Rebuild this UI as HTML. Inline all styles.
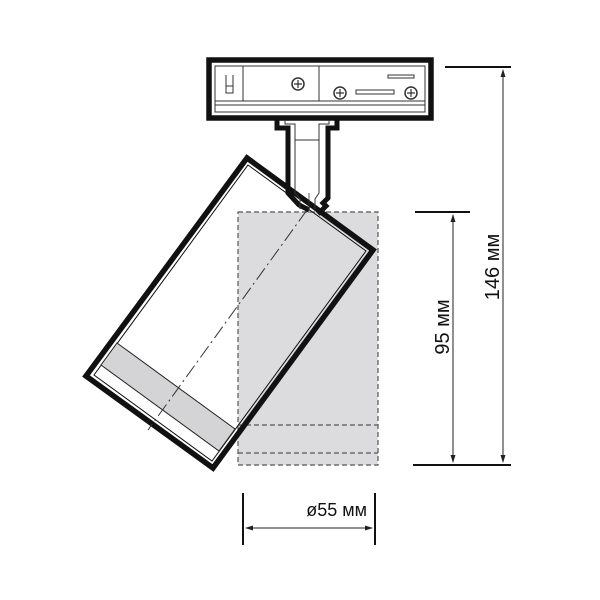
<!DOCTYPE html>
<html><head><meta charset="utf-8"><style>html,body{margin:0;padding:0;background:#fff}svg{display:block}</style></head>
<body>
<svg width="600" height="600" viewBox="0 0 600 600" xmlns="http://www.w3.org/2000/svg" font-family="Liberation Sans, sans-serif">
<defs>
<marker id="a" markerWidth="8" markerHeight="8" refX="7" refY="4" orient="auto-start-reverse" markerUnits="userSpaceOnUse"><path d="M0,1.5 L8,4 L0,6.5 z" fill="#222"/></marker>
</defs>
<rect x="238" y="212" width="140" height="253" fill="#dcdcde" stroke="#555" stroke-width="1.2" stroke-dasharray="5,3"/>
<line x1="238" y1="425" x2="378" y2="425" stroke="#555" stroke-width="1.2" stroke-dasharray="5,3"/>
<line x1="238" y1="453" x2="378" y2="453" stroke="#555" stroke-width="1.2" stroke-dasharray="5,3"/>
<polygon points="247,158 373,250 213,468 86,376" fill="none" stroke="#111" stroke-width="5.5" stroke-linejoin="miter"/>
<path d="M248,165 L366,251 L212,461 L94,375 Z" fill="none" stroke="#111" stroke-width="1"/>
<polygon points="117,343 235,429 219,451 101,365" fill="#d4d4d6" stroke="#222" stroke-width="1"/>
<line x1="307" y1="210" x2="148" y2="430" stroke="#333" stroke-width="1" stroke-dasharray="14,4,2,4"/>
<rect x="209" y="60" width="222" height="58" fill="#fff" stroke="#111" stroke-width="5.5"/>
<rect x="215" y="66" width="210" height="46" fill="#fff" stroke="#333" stroke-width="1"/>
<line x1="215" y1="101" x2="425" y2="101" stroke="#333" stroke-width="1"/>
<line x1="215" y1="105" x2="425" y2="105" stroke="#333" stroke-width="1"/>
<line x1="243" y1="66" x2="243" y2="101" stroke="#333" stroke-width="1"/>
<line x1="319" y1="66" x2="319" y2="101" stroke="#333" stroke-width="1"/>
<path d="M226,75 v18 h7 v-18 M226,86 h7" fill="none" stroke="#333" stroke-width="1"/>
<g fill="#fff" stroke="#333" stroke-width="1.5">
<circle cx="298" cy="84" r="6"/><circle cx="340" cy="93" r="6"/><circle cx="411" cy="93" r="6"/>
</g>
<path d="M294,84h8M298,80v8M336,93h8M340,89v8M407,93h8M411,89v8" stroke="#333" stroke-width="1.2"/>
<rect x="356" y="90" width="38" height="4" fill="#fff" stroke="#333" stroke-width="1"/>
<rect x="388" y="75" width="26" height="3" fill="#fff" stroke="#333" stroke-width="1"/>
<path d="M277,120 L277,128 L288,128 L288,193 L299,205 L309,210 M337,120 L337,128 L328,128 L328,198 L323,203 L326,206 L318,214" fill="none" stroke="#111" stroke-width="5"/>
<path d="M285,120 v4 h10 v69 l5,6 v10 M329,120 v4 h-10 v69 l-4,6 v10" fill="none" stroke="#333" stroke-width="1"/>
<line x1="295" y1="140" x2="319" y2="140" stroke="#333" stroke-width="1"/>
<line x1="309" y1="193" x2="309" y2="213" stroke="#333" stroke-width="0.8"/>
<g stroke="#111" stroke-width="2"><line x1="445" y1="67" x2="511" y2="67"/><line x1="413" y1="465" x2="511" y2="465"/><line x1="415" y1="212" x2="470" y2="212"/></g>
<line x1="503" y1="70" x2="503" y2="462" stroke="#222" stroke-width="1" marker-start="url(#a)" marker-end="url(#a)"/>
<line x1="453" y1="215" x2="453" y2="462" stroke="#222" stroke-width="1" marker-start="url(#a)" marker-end="url(#a)"/>
<text x="0" y="0" font-size="20" fill="#111" text-anchor="middle" transform="translate(499,267) rotate(-90)">146 мм</text>
<text x="0" y="0" font-size="20" fill="#111" text-anchor="middle" transform="translate(449,327) rotate(-90)">95 мм</text>
<g stroke="#111" stroke-width="2"><line x1="243" y1="493" x2="243" y2="545"/><line x1="375" y1="493" x2="375" y2="545"/></g>
<line x1="246" y1="528" x2="372" y2="528" stroke="#222" stroke-width="1" marker-start="url(#a)" marker-end="url(#a)"/>
<text x="367" y="516" font-size="18" fill="#111" text-anchor="end">ø55 мм</text>
</svg>
</body></html>
